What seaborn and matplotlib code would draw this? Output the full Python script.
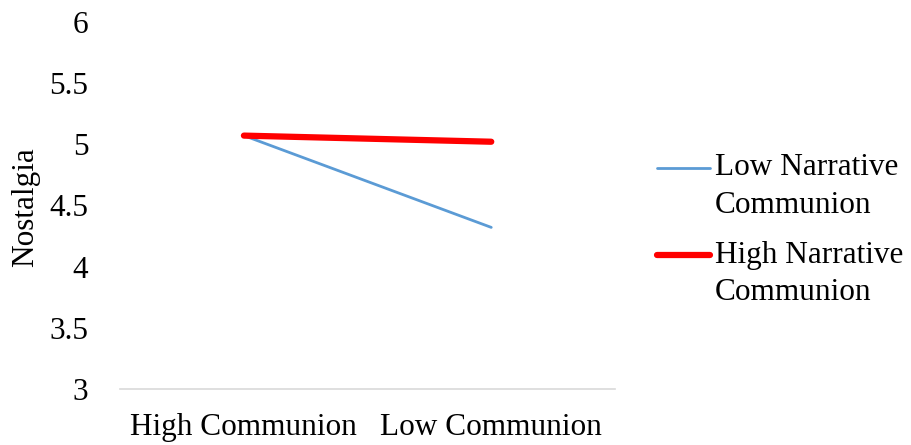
import numpy as np
import pandas as pd
import seaborn as sns
import matplotlib.pyplot as plt
from matplotlib.legend_handler import HandlerLine2D

conditions = ["High Communion", "Low Communion"]
low_narrative = [5.07, 4.32]
high_narrative = [5.07, 5.02]
series_names = ["Low Narrative\nCommunion", "High Narrative\nCommunion"]
colors = ["#5B9BD5", "#FF0000"]
widths = [2.0, 4.5]


class RaisedLine(HandlerLine2D):
    # put the legend line next to the first text line, like Excel does
    def __init__(self, dy, **kw):
        super().__init__(**kw)
        self.dy = dy

    def create_artists(self, legend, orig_handle, xdescent, ydescent,
                       width, height, fontsize, trans):
        arts = super().create_artists(legend, orig_handle, xdescent, ydescent,
                                      width, height, fontsize, trans)
        for a in arts:
            a.set_ydata(np.asarray(a.get_ydata()) + self.dy * fontsize)
        return arts


sns.set_style("white")
plt.rcParams["font.family"] = ["Liberation Serif", "DejaVu Serif"]

fig = plt.figure(figsize=(9.11, 4.45), dpi=100)
ax = fig.add_axes([0.132, 0.126, 0.543, 0.825])

for name, vals, c, lw in zip(series_names, [low_narrative, high_narrative], colors, widths):
    df = pd.DataFrame({"condition": conditions, "nostalgia": vals})
    sns.lineplot(data=df, x="condition", y="nostalgia", ax=ax, color=c,
                 linewidth=lw, label=name, sort=False)

ax.set_ylim(3, 6)
ax.set_xlim(-0.5, 1.5)
ax.set_yticks([3, 3.5, 4, 4.5, 5, 5.5, 6])
ax.set_yticklabels(["3", "3.5", "4", "4.5", "5", "5.5", "6"])
ax.set_xlabel("")
ax.set_ylabel("")
ax.tick_params(axis="both", labelsize=22.5, length=0, labelcolor="black")
ax.tick_params(axis="y", pad=23)
ax.tick_params(axis="x", pad=17)

fig.text(26 / 911, 1 - 207 / 445, "Nostalgia", rotation=90, fontsize=22.5,
         ha="center", va="center", color="black")

for side in ["top", "right", "left"]:
    ax.spines[side].set_visible(False)
ax.spines["bottom"].set_color("#d9d9d9")
ax.spines["bottom"].set_linewidth(1.2)

handles, labels = ax.get_legend_handles_labels()
leg = ax.legend(handles, labels, loc="center left", bbox_to_anchor=(0.721, 0.483),
                bbox_transform=fig.transFigure, frameon=False, fontsize=22.5,
                handlelength=1.7, handletextpad=0.15, labelspacing=0.67,
                borderpad=0, borderaxespad=0,
                handler_map={h: RaisedLine(0.6) for h in handles})
for t in leg.get_texts():
    t.set_color("black")
    t.set_linespacing(1.4)

fig.savefig("out.png", dpi=100)
